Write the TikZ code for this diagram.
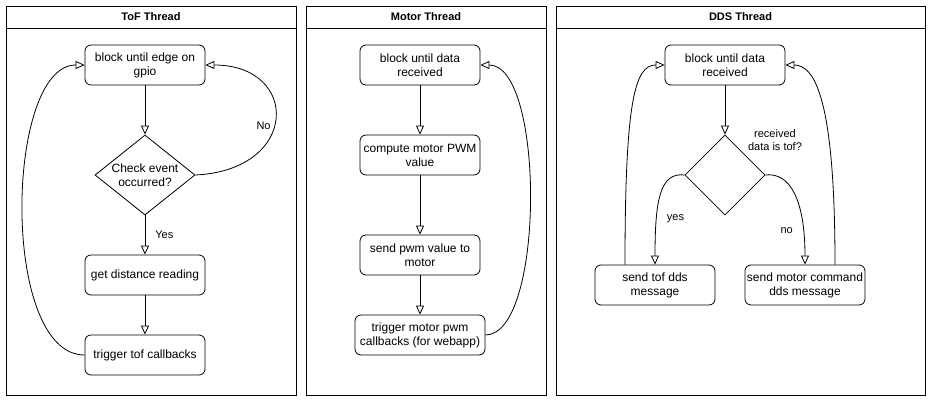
\documentclass[tikz,border=0pt]{standalone}
\usepackage{fontspec}
\setmainfont{Liberation Sans}
\usetikzlibrary{
  arrows.meta,
  shapes.geometric
}
\tikzset{
  % For the swimlane frames.
  lane/.style={
    draw,
    line width=1pt},
%
  % For swimlane titles.
  lane title/.style={
    font=\fontsize{11}{13}\selectfont\bfseries},
%
  % For process steps.
  process/.style={
    draw,
    line width=0.8pt,
    rounded corners=6pt,
    minimum width=120pt,
    minimum height=40pt,
    inner sep=1pt,
    align=center,
    font=\fontsize{12}{14}\selectfont},
%
  % For decisions; the text goes in as a centred label.
  decision/.style={
    draw,
    line width=0.8pt,
    diamond,
    inner sep=0pt},
  step text/.style={
    align=center,
    font=\fontsize{12}{14}\selectfont},
%
  % For the flow, with hollow heads.
  flow/.style={
    line width=0.8pt,
    -{Triangle[open, length=9pt, width=8pt]}},
%
  % For labels on the flow.
  flow label/.style={
    align=center,
    inner sep=1pt,
    font=\fontsize{11}{13}\selectfont},
}

\begin{document}
\begin{tikzpicture}[x=1pt, y=-1pt]
  \useasboundingbox (0,0) rectangle (932,402);

  % Lanes.
  \draw[lane] (6,6) rectangle (296,395);
  \draw[lane] (6,28) -- (296,28);
  \node[lane title] (toftitle) at (151,17) {ToF Thread};
  \draw[lane] (306,6) rectangle (546,395);
  \draw[lane] (306,28) -- (546,28);
  \node[lane title] (motortitle) at (426,17) {Motor Thread};
  \draw[lane] (556,6) rectangle (925,395);
  \draw[lane] (556,28) -- (925,28);
  \node[lane title] (ddstitle) at (740.5,17) {DDS Thread};

  % ToF thread.
  \node[process] (tofwait) at (145,65) {block until edge on\\gpio};
  \node[decision, minimum width=100pt, minimum height=80pt,
        label={[step text]center:Check event\\occurred?}] (tofcheck) at (145,175) {};
  \node[process] (tofread) at (145,275) {get distance reading};
  \node[process] (tofcall) at (145,355) {trigger tof callbacks};

  \draw[flow] (tofwait) -- (tofcheck);
  \draw[flow] (tofcheck) -- node[flow label, right=9pt] {Yes} (tofread);
  \draw[flow] (tofread) -- (tofcall);
  \draw[flow] (tofcheck.east) .. controls (300,170) and (300,65) ..
    node[flow label, pos=0.45, left=2pt] {No} (tofwait.east);
  \draw[flow] (tofcall.west) .. controls (0,355) and (5,65) .. (tofwait.west);

  % Motor thread.
  \node[process] (motorwait) at (420,65) {block until data\\received};
  \node[process] (motorpwm) at (420,155) {compute motor PWM\\value};
  \node[process] (motorsend) at (420,255) {send pwm value to\\motor};
  \node[process, minimum width=130pt] (motorcall) at (420,335) {trigger motor pwm\\callbacks (for webapp)};

  \draw[flow] (motorwait) -- (motorpwm);
  \draw[flow] (motorpwm) -- (motorsend);
  \draw[flow] (motorsend) -- (motorcall);
  \draw[flow] (motorcall.east) .. controls (545,335) and (545,65) .. (motorwait.east);

  % DDS thread.
  \node[process] (ddswait) at (725,65) {block until data\\received};
  \node[decision, minimum width=80pt, minimum height=80pt] (ddscheck) at (725,175) {};
  \node[flow label] (ddsquestion) at (775,140) {received\\data is tof?};
  \node[process] (ddstof) at (655,285) {send tof dds\\message};
  \node[process] (ddsmotor) at (805,285) {send motor command\\dds message};

  \draw[flow] (ddswait) -- (ddscheck);
  \draw[flow] (ddscheck.west) .. controls (660,172) and (655,200) ..
    node[flow label, pos=0.72, right=9pt] {yes} (ddstof.north);
  \draw[flow] (ddscheck.east) .. controls (790,172) and (805,200) ..
    node[flow label, pos=0.8, left=9pt] {no} (ddsmotor.north);
  \draw[flow] (ddstof.north -| 625,0) .. controls (625,100) and (635,65) .. (ddswait.west);
  \draw[flow] (ddsmotor.north -| 835,0) .. controls (835,100) and (815,65) .. (ddswait.east);
\end{tikzpicture}
\end{document}
